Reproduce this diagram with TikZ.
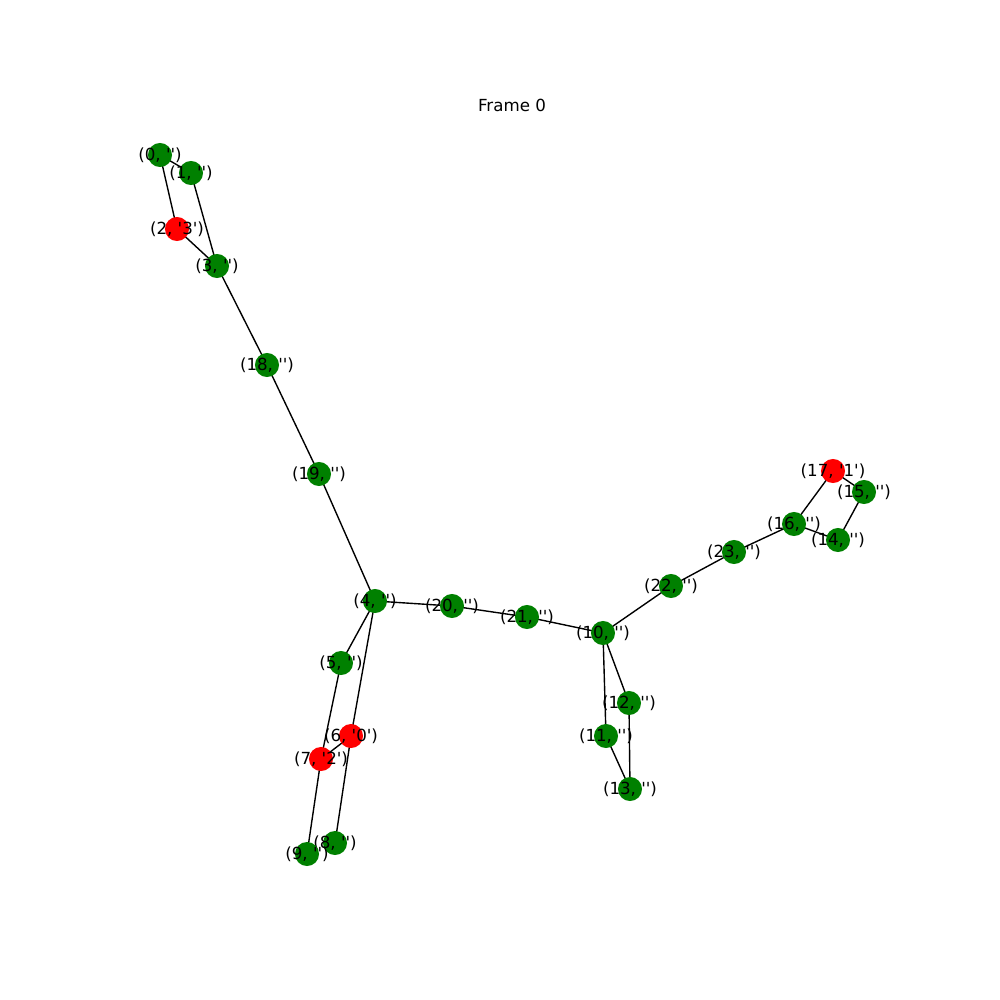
\documentclass[tikz,border=0pt]{standalone}
\usepackage{fontspec}
\setmainfont{DejaVu Sans}[Ligatures=TeXOff]
\usetikzlibrary{backgrounds}
\definecolor{mplgreen}{HTML}{008000}
\definecolor{mplred}{HTML}{FF0000}
\begin{document}
\begin{tikzpicture}[
    x=0.72pt, y=-0.72pt,
    every label/.style={font=\fontsize{12pt}{14pt}\selectfont, inner sep=0pt},
    gdot/.style={circle, fill=mplgreen, minimum size=17.3pt, inner sep=0pt},
    rdot/.style={circle, fill=mplred, minimum size=17.3pt, inner sep=0pt},
    link/.style={draw=black, line width=1pt}
]
\useasboundingbox (0,0) rectangle (1000,1000);
\node[font=\fontsize{12pt}{14pt}\selectfont] (title) at (512,105) {Frame 0};
% left top ring
\node[gdot, label=center:{(0, '')}] (n0) at (160,155) {};
\node[gdot, label=center:{(1, '')}] (n1) at (191,173) {};
\node[rdot, label=center:{(2, '3')}] (n2) at (177,229) {};
\node[gdot, label=center:{(3, '')}] (n3) at (217,266) {};
\node[gdot, label=center:{(18, '')}] (n18) at (267,365) {};
\node[gdot, label=center:{(19, '')}] (n19) at (319,474) {};
% centre chain
\node[gdot, label=center:{(4, '')}] (n4) at (375,601) {};
\node[gdot, label=center:{(20, '')}] (n20) at (452,606) {};
\node[gdot, label=center:{(21, '')}] (n21) at (527,617) {};
\node[gdot, label=center:{(10, '')}] (n10) at (603,633) {};
% bottom left ring
\node[gdot, label=center:{(5, '')}] (n5) at (341,663) {};
\node[rdot, label=center:{(6, '0')}] (n6) at (351,736) {};
\node[rdot, label=center:{(7, '2')}] (n7) at (321,759) {};
\node[gdot, label=center:{(8, '')}] (n8) at (335,843) {};
\node[gdot, label=center:{(9, '')}] (n9) at (307,854) {};
% bottom right ring
\node[gdot, label=center:{(12, '')}] (n12) at (629,703) {};
\node[gdot, label=center:{(11, '')}] (n11) at (606,736) {};
\node[gdot, label=center:{(13, '')}] (n13) at (630,789) {};
% right ring
\node[gdot, label=center:{(22, '')}] (n22) at (671,586) {};
\node[gdot, label=center:{(23, '')}] (n23) at (734,552) {};
\node[gdot, label=center:{(16, '')}] (n16) at (794,524) {};
\node[rdot, label=center:{(17, '1')}] (n17) at (833,471) {};
\node[gdot, label=center:{(15, '')}] (n15) at (864,492) {};
\node[gdot, label=center:{(14, '')}] (n14) at (838,540) {};
\begin{scope}[on background layer]
\foreach \a/\b in {0/1, 0/2, 1/3, 2/3, 3/18, 18/19, 19/4, 4/20, 20/21, 21/10,
    4/5, 4/6, 5/7, 6/7, 6/8, 7/9, 10/11, 10/12, 12/13, 11/13,
    10/22, 22/23, 23/16, 16/17, 16/14, 17/15, 15/14}
    \draw[link] (n\a.center) -- (n\b.center);
\end{scope}
\end{tikzpicture}
\end{document}
